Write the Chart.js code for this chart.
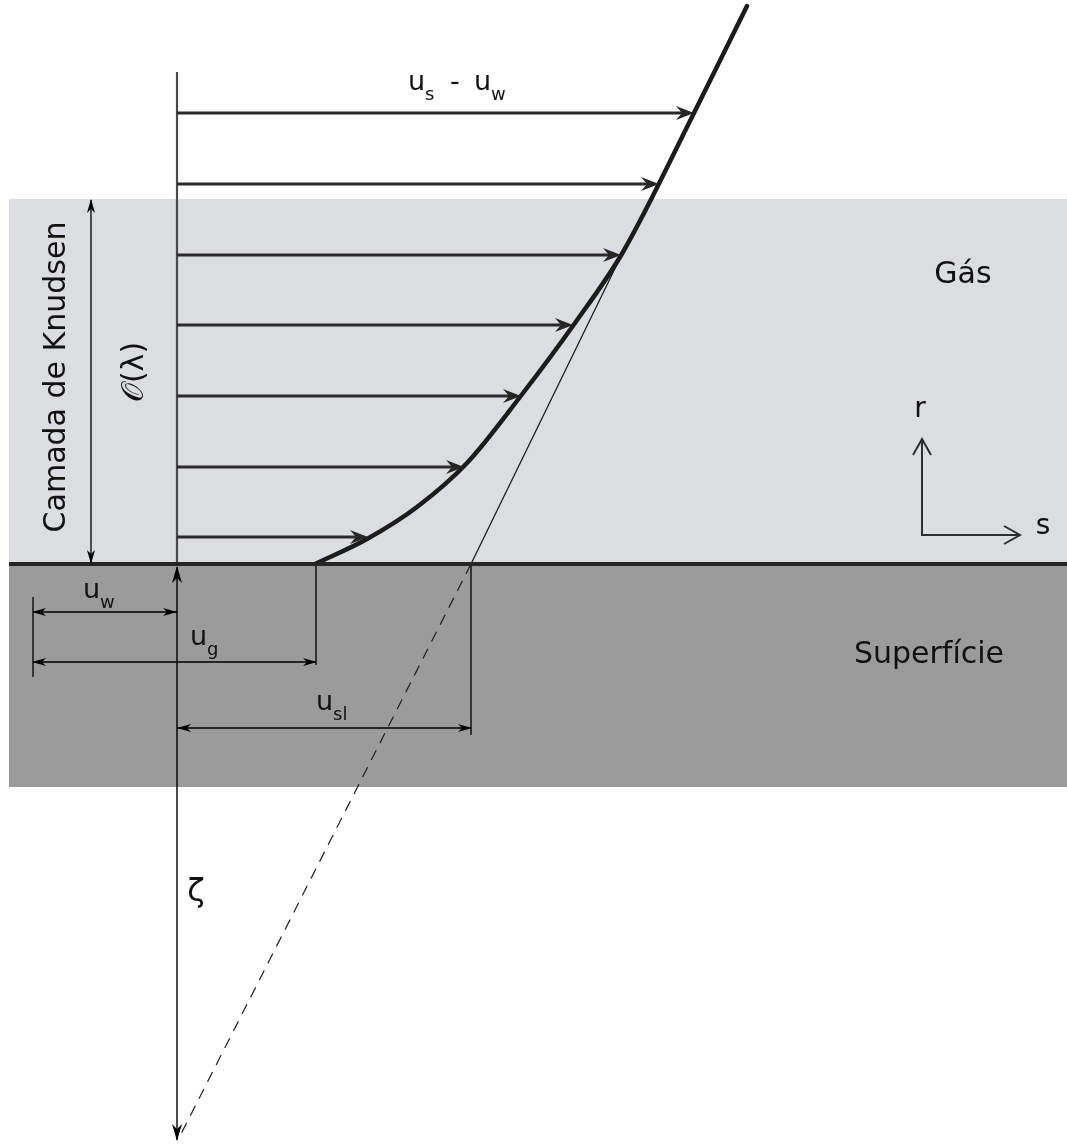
<!DOCTYPE html>
<html>
<head>
<meta charset="utf-8">
<style>
  html, body { margin: 0; padding: 0; background: #ffffff; }
  canvas { display: block; }
</style>
<script src="https://cdn.jsdelivr.net/npm/chart.js@4/dist/chart.umd.min.js"></script>
</head>
<body>
<canvas id="knudsen" width="1067" height="1147"></canvas>
<script>
// Coordinates: s runs along the wall (0 on the reference axis),
// r is the distance from the wall (negative values lie inside the surface).

// velocity profile u(r) - u_w across the Knudsen layer
const profileS = [138, 190, 240, 290, 343, 398, 446, 517, 570];
const profileR = [0, 25, 57, 101, 167, 241, 312, 451, 558];

// sampled velocity vectors (height, length)
const vectorR = [27, 97, 168, 239, 309, 380, 451];
const vectorS = [190, 286, 343, 395, 443, 481, 516];

// linear outer solution and its extrapolation into the wall
const tangentS = [446, 294];
const tangentR = [312, 0];
const extrapS = [294, 4];
const extrapR = [0, -570];

// characteristic velocities measured at the wall
const uW = 144;   // wall velocity
const uG = 139;   // gas velocity at the wall
const uSl = 294;  // slip velocity

// Knudsen layer thickness O(λ)
const knudsenThickness = 364;

// ---- layout of the sketch (axes, bands, dimension rows) ----
const view = { sMin: -177, sMax: 890, rMin: -583, rMax: 564 };
const band = { left: -168, right: 890, gasTop: 365, surfaceBottom: -223 };
const guide = {
  axisTop: 492, zetaTop: -3, zetaBottom: -576,
  rowW: -48, rowG: -98, rowSl: -164, leftTick: [-33, -113],
  tickG: -101, tickSl: -171, knudsenS: -86,
  frame: { s: 745, r: 29, rTip: 125, sTip: 843 }
};

const pts = (xs, ys) => xs.map((x, i) => ({ x, y: ys[i] }));
function joinSegments(segs) {
  const out = [];
  segs.forEach((seg, i) => {
    if (i) out.push({ x: seg[0].x, y: null });
    out.push(...seg);
  });
  return out;
}

const vectorSegments = joinSegments(vectorR.map((r, i) => [{ x: 0, y: r }, { x: vectorS[i] - 6, y: r }]));
const dimensionSegments = joinSegments([
  [{ x: -uW, y: guide.rowW }, { x: 0, y: guide.rowW }],
  [{ x: -uW, y: guide.rowG }, { x: uG, y: guide.rowG }],
  [{ x: 0, y: guide.rowSl }, { x: uSl, y: guide.rowSl }],
  [{ x: -uW, y: guide.leftTick[0] }, { x: -uW, y: guide.leftTick[1] }],
  [{ x: uG, y: 0 }, { x: uG, y: guide.tickG }],
  [{ x: uSl, y: 0 }, { x: uSl, y: guide.tickSl }],
  [{ x: guide.knudsenS, y: 1 }, { x: guide.knudsenS, y: knudsenThickness }]
]);
const frameSegments = joinSegments([
  [{ x: guide.frame.s, y: guide.frame.rTip }, { x: guide.frame.s, y: guide.frame.r }, { x: guide.frame.sTip, y: guide.frame.r }]
]);

// arrow heads: drawn at "to", pointing away from "from"
const heads = [];
vectorR.forEach((r, i) => heads.push({ from: [0, r], to: [vectorS[i], r], kind: 'vector' }));
heads.push({ from: [0, -100], to: [0, guide.zetaTop], kind: 'zeta' });
heads.push({ from: [0, -100], to: [0, guide.zetaBottom], kind: 'zeta' });
heads.push({ from: [0, guide.rowW], to: [-uW, guide.rowW], kind: 'dim' });
heads.push({ from: [-uW, guide.rowW], to: [-1, guide.rowW], kind: 'dim' });
heads.push({ from: [0, guide.rowG], to: [-uW, guide.rowG], kind: 'dim' });
heads.push({ from: [0, guide.rowG], to: [uG, guide.rowG], kind: 'dim' });
heads.push({ from: [uSl, guide.rowSl], to: [1, guide.rowSl], kind: 'dim' });
heads.push({ from: [0, guide.rowSl], to: [uSl, guide.rowSl], kind: 'dim' });
heads.push({ from: [guide.knudsenS, 100], to: [guide.knudsenS, knudsenThickness], kind: 'dim' });
heads.push({ from: [guide.knudsenS, 100], to: [guide.knudsenS, 1], kind: 'dim' });
heads.push({ from: [guide.frame.s, guide.frame.r], to: [guide.frame.s, guide.frame.rTip], kind: 'open' });
heads.push({ from: [guide.frame.s, guide.frame.r], to: [guide.frame.sTip, guide.frame.r], kind: 'open' });

const headShapes = {
  vector: { len: 17, half: 7, notch: 11, color: '#262626' },
  zeta:   { len: 16, half: 5, notch: 11, color: '#000000' },
  dim:    { len: 13, half: 4, notch: 9,  color: '#000000' }
};

// text annotations: [s, r] is the left end of the baseline unless noted
const FONT = '"DejaVu Sans", Verdana, sans-serif';
const symbols = [
  { main: 'u', sub: 's', at: [231, 474] },
  { main: 'u', sub: 'w', at: [297, 474] },
  { main: 'u', sub: 'w', at: [-94, -34] },
  { main: 'u', sub: 'g', at: [13, -81] },
  { main: 'u', sub: 'sl', at: [139, -146] }
];
const words = [
  { text: '-', at: [273, 474], size: 27 },
  { text: 'Gás', at: [786, 289], size: 30, center: true },
  { text: 'Superfície', at: [752, -91], size: 30, center: true },
  { text: 'r', at: [743, 154], size: 28, center: true },
  { text: 's', at: [866, 37], size: 28, center: true },
  { text: 'ζ', at: [19, -329], size: 32, center: true }
];
const rotated = [
  { text: 'Camada de Knudsen', at: [-112, 187], size: 30 },
  { text: '𝒪(λ)', at: [-34, 192], size: 30 }
];

const sketchPlugin = {
  id: 'sketch',
  beforeDatasetsDraw(chart) {
    const { ctx, scales: { x, y } } = chart;
    const L = x.getPixelForValue(band.left), R = x.getPixelForValue(band.right);
    const g0 = y.getPixelForValue(band.gasTop), w0 = y.getPixelForValue(0);
    const s0 = y.getPixelForValue(band.surfaceBottom);
    ctx.save();
    ctx.fillStyle = '#dcdde0';
    ctx.fillRect(L, g0, R - L, w0 - g0);
    ctx.fillStyle = '#9b9b9b';
    ctx.fillRect(L, w0, R - L, s0 - w0);
    ctx.restore();
  },
  afterDatasetsDraw(chart) {
    const { ctx, scales: { x, y } } = chart;
    const px = (p) => [x.getPixelForValue(p[0]), y.getPixelForValue(p[1])];
    ctx.save();
    heads.forEach(h => {
      const [fx, fy] = px(h.from), [tx, ty] = px(h.to);
      const ang = Math.atan2(ty - fy, tx - fx);
      ctx.save();
      ctx.translate(tx, ty);
      ctx.rotate(ang);
      if (h.kind === 'open') {
        ctx.strokeStyle = '#2e2e2e';
        ctx.lineWidth = 2;
        ctx.lineJoin = 'miter';
        ctx.beginPath();
        ctx.moveTo(-16, -9);
        ctx.lineTo(0, 0);
        ctx.lineTo(-16, 9);
        ctx.stroke();
      } else {
        const sh = headShapes[h.kind];
        ctx.fillStyle = sh.color;
        ctx.beginPath();
        ctx.moveTo(1, 0);
        ctx.lineTo(-sh.len, -sh.half);
        ctx.lineTo(-sh.notch, 0);
        ctx.lineTo(-sh.len, sh.half);
        ctx.closePath();
        ctx.fill();
      }
      ctx.restore();
    });

    ctx.fillStyle = '#111111';
    symbols.forEach(lb => {
      const [bx, by] = px(lb.at);
      ctx.font = `27px ${FONT}`;
      ctx.textAlign = 'left';
      ctx.textBaseline = 'alphabetic';
      ctx.fillText(lb.main, bx, by);
      const adv = ctx.measureText(lb.main).width;
      ctx.font = `18px ${FONT}`;
      ctx.fillText(lb.sub, bx + adv, by + 10);
    });
    words.forEach(w => {
      const [bx, by] = px(w.at);
      ctx.font = `${w.size}px ${FONT}`;
      ctx.textAlign = w.center ? 'center' : 'left';
      ctx.textBaseline = w.center ? 'middle' : 'alphabetic';
      ctx.fillText(w.text, bx, by);
    });
    rotated.forEach(w => {
      const [bx, by] = px(w.at);
      ctx.save();
      ctx.translate(bx, by);
      ctx.rotate(-Math.PI / 2);
      ctx.font = `${w.size}px ${FONT}`;
      ctx.textAlign = 'center';
      ctx.textBaseline = 'alphabetic';
      ctx.fillText(w.text, 0, 0);
      ctx.restore();
    });
    ctx.restore();
  }
};

const line = (data, color, width, extra = {}) => Object.assign({
  data, borderColor: color, borderWidth: width, pointRadius: 0,
  fill: false, tension: 0, spanGaps: false
}, extra);

new Chart(document.getElementById('knudsen'), {
  type: 'line',
  data: {
    datasets: [
      line([{ x: band.left, y: 0 }, { x: band.right, y: 0 }], '#262626', 4, { order: 0 }),
      line(pts(profileS, profileR), '#1c1c1c', 4.5, { order: 1, cubicInterpolationMode: 'monotone', borderCapStyle: 'round', borderJoinStyle: 'round' }),
      line(vectorSegments, '#2a2a2a', 2.8, { order: 2 }),
      line(pts(tangentS, tangentR), '#1e1e1e', 1.3, { order: 3 }),
      line(pts(extrapS, extrapR), '#1e1e1e', 1.2, { order: 4, borderDash: [11, 8] }),
      line([{ x: 0, y: 0 }, { x: 0, y: guide.axisTop }], '#4a4a4a', 2.2, { order: 5 }),
      line([{ x: 0, y: guide.zetaTop }, { x: 0, y: guide.zetaBottom }], '#000000', 1.4, { order: 6 }),
      line(dimensionSegments, '#000000', 1.3, { order: 7 }),
      line(frameSegments, '#2e2e2e', 2, { order: 8 })
    ]
  },
  options: {
    responsive: false,
    devicePixelRatio: 1,
    animation: false,
    events: [],
    layout: { padding: 0 },
    plugins: { legend: { display: false }, tooltip: { enabled: false } },
    scales: {
      x: { type: 'linear', min: view.sMin, max: view.sMax, display: false },
      y: { type: 'linear', min: view.rMin, max: view.rMax, display: false }
    }
  },
  plugins: [sketchPlugin]
});
</script>
</body>
</html>
